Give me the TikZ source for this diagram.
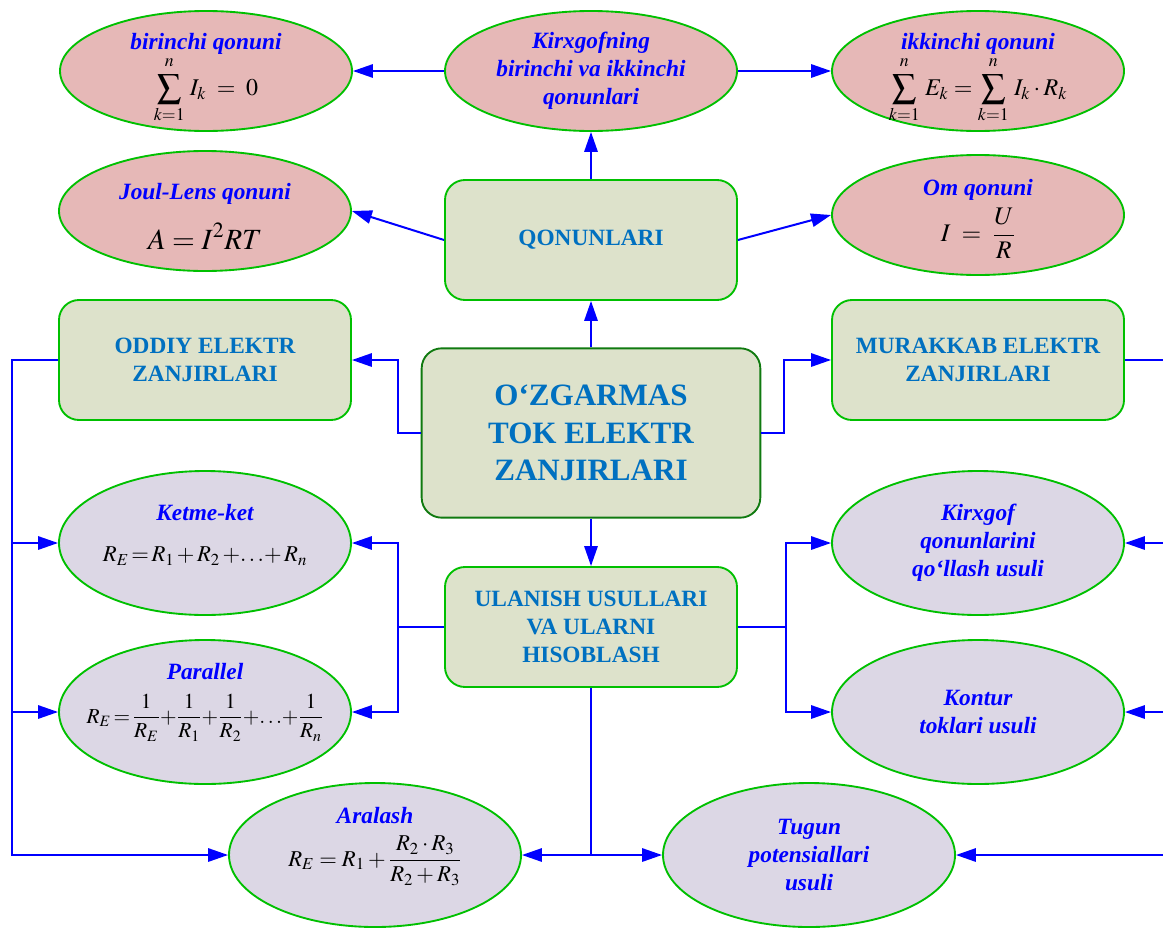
\documentclass[tikz,border=0pt]{standalone}
\usepackage{mathptmx}
\usepackage[no-math]{fontspec}
\setmainfont{Liberation Serif}
\usetikzlibrary{arrows.meta,shapes.geometric}
\definecolor{lawfill}{HTML}{E6B8B7}
\definecolor{methfill}{HTML}{DCD7E5}
\definecolor{boxfill}{HTML}{DDE2CB}
\definecolor{edgegreen}{HTML}{00C000}
\definecolor{darkedge}{HTML}{107A10}
\definecolor{titleblue}{HTML}{0000FF}
\definecolor{boxblue}{HTML}{0070C0}
\newcommand{\frm}[2]{\textcolor{black}{\fontsize{#1}{#1}\selectfont$\displaystyle #2$}}
\newcommand{\toppad}[1]{\rule{0pt}{#1}}
\newcommand{\botpad}[1]{\rule[-#1]{0pt}{#1}}
\newcommand{\upn}{\raisebox{2.5pt}{$\scriptstyle n$}}

\begin{document}
\begin{tikzpicture}[x=0.75pt,y=-0.75pt]
	\tikzstyle{oval}=[ellipse,draw=edgegreen,line width=1.4pt,minimum width=219pt,inner xsep=-14pt,inner ysep=-20pt,
		align=center,text=titleblue,font=\bfseries\itshape\fontsize{17.5}{21}\selectfont]
	\tikzstyle{lawnode}=[oval,fill=lawfill,minimum height=90pt]
	\tikzstyle{methodnode}=[oval,fill=methfill,minimum height=108pt]
	\tikzstyle{topic}=[draw=edgegreen,line width=1.4pt,rounded corners=15pt,fill=boxfill,minimum width=219pt,
		minimum height=90pt,align=center,text=boxblue,font=\bfseries\fontsize{17.5}{20.5}\selectfont]
	\tikzstyle{wire}=[blue,line width=1.5pt]
	\tikzstyle{link}=[wire,-{Triangle[length=15pt,width=10pt]}]

	\useasboundingbox (0,0) rectangle (1163,928);
	\clip (0,0) rectangle (1163,928);

	% laws
	\node[lawnode] (kirch) at (591,71) {Kirxgofning\\birinchi va ikkinchi\\qonunlari};
	\node[lawnode] (first) at (206,71) {\toppad{23pt}birinchi qonuni\\[1pt]\frm{18}{\sum_{k=1}^{\upn}\, I_{k} \;=\; 0}};
	\node[lawnode] (second) at (978,71) {\toppad{23pt}ikkinchi qonuni\\[1pt]\frm{18}{\sum_{k=1}^{\upn}\, E_{k} = \sum_{k=1}^{\upn}\, I_{k}\cdot R_{k}}};
	\node[lawnode] (joule) at (205,211) {\toppad{20pt}Joul-Lens qonuni\\[13pt]\frm{22}{A = I^{2}RT}};
	\node[lawnode] (ohm) at (978,215) {\toppad{18pt}Om qonuni\\[5pt]\frm{19}{I \;=\; \frac{U}{R}}};

	% boxes
	\node[topic] (laws) at (591,240) {QONUNLARI};
	\node[topic,minimum width=254pt,minimum height=127pt,draw=darkedge,
		font=\bfseries\fontsize{23.3}{28}\selectfont] (main) at (591,433) {O‘ZGARMAS\\TOK ELEKTR\\ZANJIRLARI};
	\node[topic] (simple) at (205,360) {ODDIY ELEKTR\\ZANJIRLARI};
	\node[topic] (complex) at (978,360) {MURAKKAB ELEKTR\\ZANJIRLARI};
	\node[topic,font=\bfseries\fontsize{17.5}{21}\selectfont] (conn) at (591,627) {ULANISH USULLARI\\VA ULARNI\\HISOBLASH};

	% methods
	\node[methodnode] (series) at (205,543) {Ketme-ket\\[10pt]\frm{17}{R_{E} \,{=}\, R_{1} \,{+}\, R_{2} \,{+}{\ldots}{+}\, R_{n}}\botpad{15pt}};
	\node[methodnode] (paral) at (205,712) {Parallel\\[10pt]\frm{16}{R_{E} \,{=}\, \frac{1}{R_{E}} {+} \frac{1}{R_{1}} {+} \frac{1}{R_{2}} {+}{\ldots}{+} \frac{1}{R_{n}}}\botpad{28pt}};
	\node[methodnode] (mixed) at (375,855) {Aralash\\[8pt]\frm{17}{R_{E} = R_{1} + \frac{R_{2}\cdot R_{3}}{R_{2} + R_{3}}}\botpad{27pt}};
	\node[methodnode] (kmeth) at (978,543) {Kirxgof\\qonunlarini\\qo‘llash usuli};
	\node[methodnode] (loop) at (978,712) {Kontur\\toklari usuli};
	\node[methodnode] (nodal) at (809,855) {Tugun\\potensiallari\\usuli};

	% top part
	\draw[link] (kirch.west) -- (first.east);
	\draw[link] (kirch.east) -- (second.west);
	\draw[link] (laws.north) -- (kirch.south);
	\draw[link] (laws.west) -- (joule.east);
	\draw[link] (laws.east) -- (ohm.west);
	\draw[link] (main.north) -- (laws.south);
	\draw[link] (main.south) -- (conn.north);
	\draw[link] (main.west) -- ++(-23,0) |- (simple.east);
	\draw[link] (main.east) -- ++(23,0) |- (complex.west);

	% left bus
	\coordinate (lbus) at (12,855);
	\draw[link] (simple.west) -| (lbus) -- (mixed.west);
	\draw[link] (lbus |- series.west) -- (series.west);
	\draw[link] (lbus |- paral.west) -- (paral.west);

	% right bus
	\coordinate (rbus) at (1180,855);
	\draw[link] (complex.east) -| (rbus) -- (nodal.east);
	\draw[link] (rbus |- kmeth.east) -- (kmeth.east);
	\draw[link] (rbus |- loop.east) -- (loop.east);

	% connection methods
	\draw[link] (conn.west) -- ++(-46,0) coordinate (cl) |- (series.east);
	\draw[link] (cl) |- (paral.east);
	\draw[link] (conn.east) -- ++(48,0) coordinate (cr) |- (kmeth.west);
	\draw[link] (cr) |- (loop.west);
	\draw[wire] (conn.south) -- (conn.south |- mixed.east) coordinate (cb);
	\draw[link] (cb) -- (mixed.east);
	\draw[link] (cb) -- (nodal.west);
\end{tikzpicture}
\end{document}
